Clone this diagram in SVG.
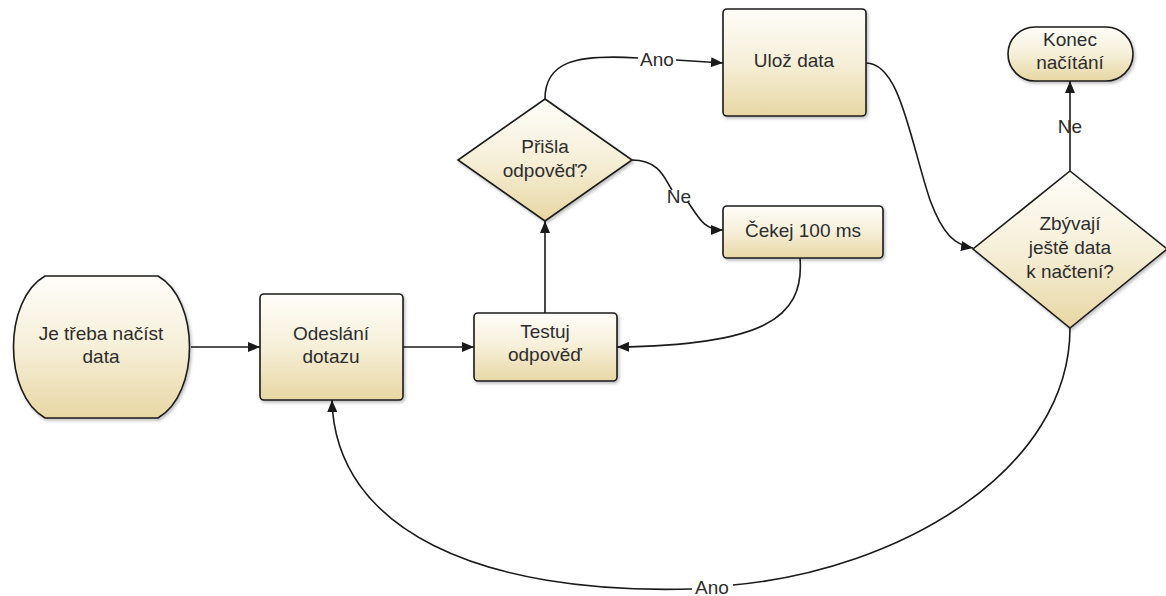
<svg xmlns="http://www.w3.org/2000/svg" width="1166" height="596" viewBox="0 0 1166 596">
  <defs>
    <linearGradient id="fillGrad" x1="0" y1="0" x2="0" y2="1">
      <stop offset="0" stop-color="#fefdf9"/>
      <stop offset="0.5" stop-color="#f6efd8"/>
      <stop offset="1" stop-color="#e8d7a4"/>
    </linearGradient>
    <filter id="shadow" x="-10%" y="-10%" width="125%" height="125%">
      <feDropShadow dx="1.5" dy="2" stdDeviation="1.5" flood-color="#000" flood-opacity="0.25"/>
    </filter>
    <marker id="arrow" viewBox="0 0 12 10" refX="12" refY="5" markerWidth="12" markerHeight="10" markerUnits="userSpaceOnUse" orient="auto">
      <path d="M0,0 L12,5 L0,10 Z" fill="#1a1a1a"/>
    </marker>
  </defs>
  <style>
    .shape { fill: url(#fillGrad); stroke: #1a1a1a; stroke-width: 1.6; filter: url(#shadow); }
    .label { font-family: "Liberation Sans", Arial, sans-serif; font-size: 19px; fill: #2d2d2d; text-anchor: middle; }
    .edge { fill: none; stroke: #1a1a1a; stroke-width: 1.6; }
    .edgeLabel { font-family: "Liberation Sans", Arial, sans-serif; font-size: 19px; fill: #2d2d2d; text-anchor: middle; }
  </style>
  <rect width="1166" height="596" fill="#ffffff"/>

  <!-- connectors -->
  <g id="connectors">
    <path class="edge" d="M191,347 L260,347" marker-end="url(#arrow)"/>
    <path class="edge" d="M403,347 L474,347" marker-end="url(#arrow)"/>
    <path class="edge" d="M545,313 L545,221" marker-end="url(#arrow)"/>
    <path class="edge" d="M545,99 C545,62 575,54 638,58"/>
    <path class="edge" d="M676,60 L723,63" marker-end="url(#arrow)"/>
    <path class="edge" d="M632,160 C660,160 665,180 672,190"/>
    <path class="edge" d="M688,202 C700,220 705,230 723,230" marker-end="url(#arrow)"/>
    <path class="edge" d="M800,258 C805,320 760,345 617,347" marker-end="url(#arrow)"/>
    <path class="edge" d="M866,63 C900,63 910,140 930,200 C943,235 955,245 973,248" marker-end="url(#arrow)"/>
    <path class="edge" d="M1070,171 L1070,81" marker-end="url(#arrow)"/>
    <path class="edge" d="M1070,328 C1070,470 900,570 733,585"/>
    <path class="edge" d="M692,589 C480,595 335,530 332,400" marker-end="url(#arrow)"/>
    <text class="edgeLabel" x="657" y="66">Ano</text>
    <text class="edgeLabel" x="679" y="203">Ne</text>
    <text class="edgeLabel" x="1070" y="133">Ne</text>
    <text class="edgeLabel" x="712" y="594">Ano</text>
  </g>

  <g id="start">
    <path class="shape" d="M45,276 L158,276 C200,300 200,394 158,418 L45,418 C3,394 3,300 45,276 Z"/>
    <text class="label" x="101" y="340">Je třeba načíst</text>
    <text class="label" x="101" y="363">data</text>
  </g>

  <g id="send">
    <rect class="shape" x="260" y="294" width="143" height="106" rx="4"/>
    <text class="label" x="331" y="340">Odeslání</text>
    <text class="label" x="331" y="363">dotazu</text>
  </g>

  <g id="test">
    <rect class="shape" x="474" y="313" width="143" height="68" rx="4"/>
    <text class="label" x="545" y="338">Testuj</text>
    <text class="label" x="545" y="361">odpověď</text>
  </g>

  <g id="answered">
    <path class="shape" d="M545,99 L632,160 L545,221 L458,160 Z"/>
    <text class="label" x="545" y="153">Přišla</text>
    <text class="label" x="545" y="177">odpověď?</text>
  </g>

  <g id="store">
    <rect class="shape" x="723" y="9" width="143" height="107" rx="4"/>
    <text class="label" x="794" y="67">Ulož data</text>
  </g>

  <g id="wait">
    <rect class="shape" x="723" y="206" width="160" height="52" rx="4"/>
    <text class="label" x="803" y="237">Čekej 100 ms</text>
  </g>

  <g id="remaining">
    <path class="shape" d="M1070,171 L1167,249 L1070,328 L973,249 Z"/>
    <text class="label" x="1070" y="230">Zbývají</text>
    <text class="label" x="1070" y="254">ještě data</text>
    <text class="label" x="1070" y="278">k načtení?</text>
  </g>

  <g id="end">
    <rect class="shape" x="1008" y="27" width="125" height="54" rx="27"/>
    <text class="label" x="1070" y="46">Konec</text>
    <text class="label" x="1070" y="69">načítání</text>
  </g>
</svg>
